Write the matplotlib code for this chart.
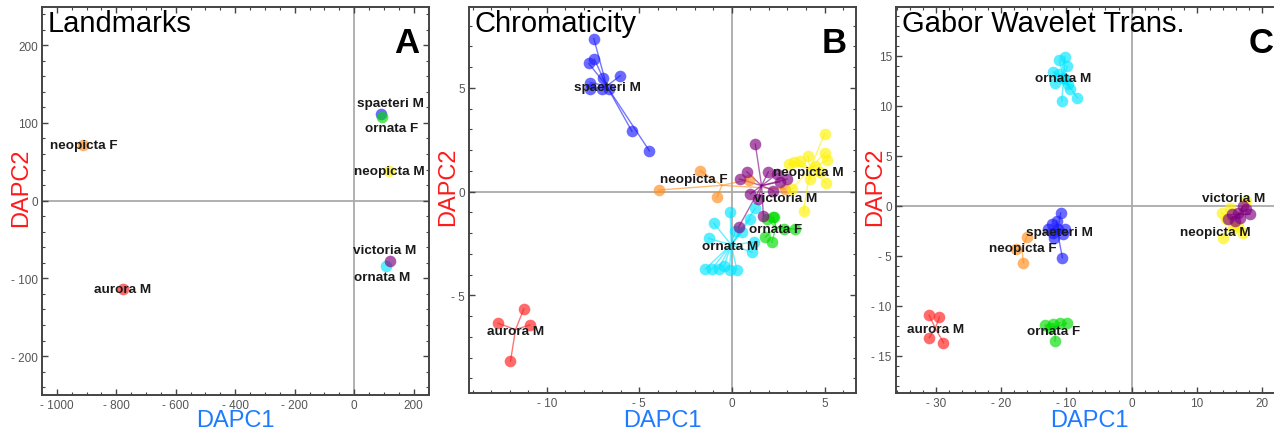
import numpy as np
import matplotlib
matplotlib.use("Agg")
import matplotlib.pyplot as plt
from matplotlib.ticker import MultipleLocator, FuncFormatter

plt.rcParams['font.family'] = ['Liberation Sans', 'DejaVu Sans']

# --- data ---------------------------------------------------------------------
groups = ["aurora M", "spaeteri M", "ornata F", "ornata M",
          "neopicta F", "neopicta M", "victoria M"]
colors = ["#FF1A1A", "#1A1AFF", "#00DD00", "#00E5FF",
          "#FF8C1A", "#FFF200", "#800080"]

# A: landmarks (groups collapse to a single spot)
lm_x = [[-779], [91], [95], [108], [-911], [118], [121]]
lm_y = [[-114], [111], [107], [-84], [71], [38], [-78]]
lm_lab_x = [-779, 121, 127, 95, -911, 118, 104]
lm_lab_y = [-114, 126, 94, -98, 71, 38, -63]

# B: chromaticity
ch_x = [[-12.63, -11.24, -10.92, -11.96],
        [-7.46, -7.73, -7.43, -7.64, -6.96, -6.03, -7.64, -7.01, -6.65, -5.40, -4.46],
        [2.24, 1.89, 1.80, 2.16, 2.82, 3.41, 2.25],
        [-0.09, -0.99, -1.26, 0.99, 0.18, 1.17, 1.08, 1.26, -1.44, -1.08, -0.72,
         -0.41, -0.13, 0.27, 0.54],
        [-1.71, -3.96, -0.81, 0.90, 2.87],
        [5.00, 5.00, 4.10, 3.33, 3.69, 3.06, 4.46, 5.16, 4.73, 5.09, 3.87, 3.24, 4.23],
        [1.26, 0.81, 0.41, 1.97, 2.43, 0.99, 1.43, 1.70, 0.36, 2.61, 2.24, 2.97]]
ch_y = [[-6.34, -5.65, -6.42, -8.17],
        [7.38, 6.18, 6.39, 5.26, 5.47, 5.59, 4.94, 4.94, 4.94, 2.91, 1.97],
        [-1.23, -1.32, -2.20, -2.44, -1.80, -1.80, -1.24],
        [-1.00, -1.51, -2.25, -1.32, -1.88, -2.44, -2.92, -0.80, -3.72, -3.72, -3.72,
         -3.56, -3.76, -3.76, -1.96],
        [1.01, 0.08, -0.27, 0.58, 0.13],
        [2.78, 1.86, 1.70, 1.41, 1.46, 1.33, 1.22, 1.52, 0.93, 0.42, -0.91, 0.13, 0.61],
        [2.30, 0.96, 0.61, 0.96, 0.85, -0.11, -0.35, -1.16, -1.71, 0.48, 0.05, 0.61]]
ch_lab_x = [-11.69, -6.74, 2.34, -0.09, -2.07, 4.14, 2.88]
ch_lab_y = [-6.69, 5.06, -1.80, -2.63, 0.61, 0.93, -0.32]

# C: Gabor wavelet transform
gw_x = [[-31.02, -29.44, -31.02, -28.83],
        [-10.87, -11.48, -12.24, -12.76, -11.99, -11.22, -10.46, -10.20, -10.61, -11.89],
        [-13.27, -11.99, -10.97, -9.95, -11.73, -12.50],
        [-10.20, -11.07, -9.85, -12.00, -11.20, -10.46, -9.69, -9.44, -10.71, -8.32,
         -11.73, -10.20],
        [-16.07, -17.76, -16.58],
        [13.78, 14.03, 17.09, 17.60, 15.05, 14.54, 16.33, 15.56],
        [15.31, 16.58, 17.60, 18.11, 15.82, 17.09, 14.80, 16.33]]
gw_y = [[-10.93, -11.10, -13.17, -13.67],
        [-0.70, -1.50, -1.83, -2.33, -2.67, -2.33, -2.83, -2.33, -5.17, -3.17],
        [-11.93, -11.77, -11.67, -11.73, -13.50, -12.17],
        [14.93, 14.57, 14.00, 13.40, 13.17, 12.83, 12.17, 11.73, 10.50, 10.83,
         12.33, 12.67],
        [-3.07, -4.33, -5.67],
        [-0.67, -3.17, -2.67, 0.50, -0.17, -1.33, -2.00, -2.33],
        [-0.83, -1.16, -0.33, -0.83, -1.50, 0.00, -1.33, -0.67]]
gw_lab_x = [-30.10, -11.12, -11.89, -10.46, -16.68, 12.76, 15.56]
gw_lab_y = [-12.33, -2.60, -12.50, 12.83, -4.17, -2.60, 0.83]

W, H = 1274, 431
panels = [
    dict(title="Landmarks", letter="A", xs=lm_x, ys=lm_y, lx=lm_lab_x, ly=lm_lab_y,
         rect=(42, 8, 387, 388), xlim=(-1050, 252), ylim=(-250, 249),
         xmaj=200, xmin=50, ymaj=100, ymin=20),
    dict(title="Chromaticity", letter="B", xs=ch_x, ys=ch_y, lx=ch_lab_x, ly=ch_lab_y,
         rect=(469, 8, 387, 386), xlim=(-14.2, 6.7), ylim=(-9.7, 8.9),
         xmaj=5, xmin=1, ymaj=5, ymin=1),
    dict(title="Gabor Wavelet Trans.", letter="C", xs=gw_x, ys=gw_y, lx=gw_lab_x,
         ly=gw_lab_y, rect=(896, 8, 387, 386), xlim=(-36.1, 23.2), ylim=(-18.7, 19.9),
         xmaj=10, xmin=2, ymaj=5, ymin=1),
]


def mfmt(v, pos):
    if abs(v) < 1e-9:
        return "0"
    return ("- %g" % abs(v)) if v < 0 else "%g" % v


fig = plt.figure(figsize=(W / 100, H / 100), dpi=100)

for p in panels:
    l, t, w, h = p["rect"]
    ax = fig.add_axes([l / W, (H - t - h) / H, w / W, h / H])
    ax.set_xlim(*p["xlim"])
    ax.set_ylim(*p["ylim"])

    ax.axhline(0, color="#aaaaaa", lw=1.3, zorder=1)
    ax.axvline(0, color="#aaaaaa", lw=1.3, zorder=1)

    for xs, ys, c in zip(p["xs"], p["ys"], colors):
        xs = np.asarray(xs)
        ys = np.asarray(ys)
        mx, my = xs.mean(), ys.mean()
        for x, y in zip(xs, ys):
            ax.plot([mx, x], [my, y], color=c, lw=1.0, alpha=0.6, zorder=2)
        ax.scatter(xs, ys, s=70, color=c, alpha=0.65, linewidths=0, zorder=3)

    for name, x, y in zip(groups, p["lx"], p["ly"]):
        ax.text(x, y, name, fontsize=9.7, fontweight="bold", color="#1a1a1a",
                ha="center", va="center", zorder=5)

    ax.text(0.015, 0.995, p["title"], transform=ax.transAxes, fontsize=21,
            ha="left", va="top", color="black")
    ax.text(0.975, 0.95, p["letter"], transform=ax.transAxes, fontsize=25,
            fontweight="bold", ha="right", va="top", color="black")

    ax.xaxis.set_major_locator(MultipleLocator(p["xmaj"]))
    ax.xaxis.set_minor_locator(MultipleLocator(p["xmin"]))
    ax.yaxis.set_major_locator(MultipleLocator(p["ymaj"]))
    ax.yaxis.set_minor_locator(MultipleLocator(p["ymin"]))
    ax.xaxis.set_major_formatter(FuncFormatter(mfmt))
    ax.yaxis.set_major_formatter(FuncFormatter(mfmt))
    ax.tick_params(which="both", direction="in", top=True, right=True,
                   color="#444444", labelcolor="#555555", labelsize=8.5)
    ax.tick_params(which="major", length=4, width=1, pad=3)
    ax.tick_params(which="minor", length=2, width=0.8)
    for s in ax.spines.values():
        s.set_color("#444444")
        s.set_linewidth(1.4)

    fig.text((l + w / 2) / W, 4 / H, "DAPC1", fontsize=17,
             color="#1E7BFF", ha="center", va="baseline")
    ax.text(-0.055, 0.537, "DAPC2", transform=ax.transAxes, fontsize=17,
            color="#FF1A1A", ha="center", va="center", rotation=90)

fig.savefig("out.png", dpi=100)
